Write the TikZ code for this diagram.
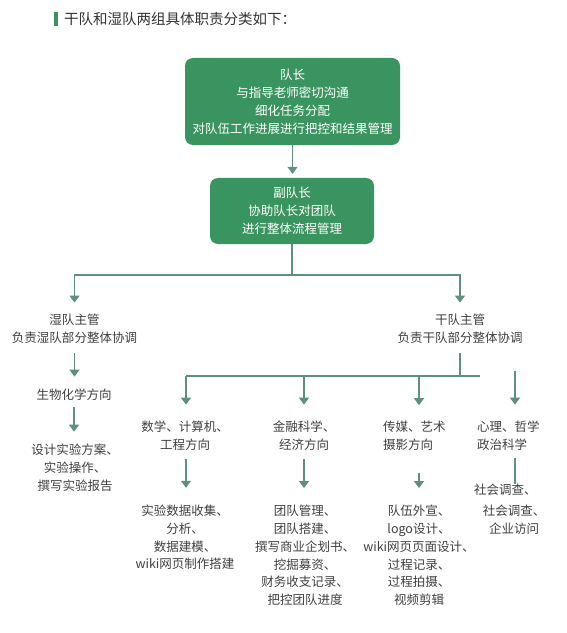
\documentclass[tikz,border=0pt]{standalone}
\usepackage{fontspec}
\setmainfont{Noto Sans CJK SC}
\usetikzlibrary{arrows.meta,calc}
\definecolor{boxgreen}{HTML}{3A9460}
\definecolor{linecol}{HTML}{5F8F7F}
\definecolor{txtgray}{HTML}{404040}
\definecolor{titlegray}{HTML}{333333}
\begin{document}
\begin{tikzpicture}[x=1bp,y=-1bp,
  txt/.style={font=\fontsize{12.5bp}{17.8bp}\selectfont, text=txtgray, align=center, inner sep=0pt},
  txtl/.style={txt, align=left, anchor=west},
  gbox/.style={fill=boxgreen, rounded corners=8bp, text=white, align=center,
    font=\fontsize{12.5bp}{18bp}\selectfont, inner sep=0pt},
  ln/.style={draw=linecol, line width=1.5bp},
  arr/.style={ln, -{Triangle[width=10bp,length=7bp]}}]
\useasboundingbox[fill=white] (0,0) rectangle (567,633);
% title
\fill[boxgreen] (54,12) rectangle (58,26);
\node[anchor=west, inner sep=0pt, text=titlegray, font=\fontsize{14.5bp}{16bp}\selectfont] (title) at (64,19) {干队和湿队两组具体职责分类如下：};
% top boxes
\node[gbox, minimum width=215bp, minimum height=87bp] (b1) at (292.5,101.5)
  {队长\\与指导老师密切沟通\\细化任务分配\\对队伍工作进展进行把控和结果管理};
\node[gbox, minimum width=164bp, minimum height=66bp] (b2) at (292,211)
  {副队长\\协助队长对团队\\进行整体流程管理};
% second level
\node[txt] (wet) at (74.5,329) {湿队主管\\负责湿队部分整体协调};
\node[txt] (dry) at (460,329) {干队主管\\负责干队部分整体协调};
% wet branch
\node[txt] (bio) at (74,395) {生物化学方向};
\node[txt] (biotask) at (75,467.5) {设计实验方案、\\实验操作、\\撰写实验报告};
% dry branches
\node[txt] (math) at (185,435.5) {数学、计算机、\\工程方向};
\node[txt] (mathtask) at (185,537.5) {实验数据收集、\\分析、\\数据建模、\\wiki网页制作搭建};
\node[txt] (fin) at (304,435.5) {金融科学、\\经济方向};
\node[txt] (fintask) at (305,555.5) {团队管理、\\团队搭建、\\撰写商业企划书、\\挖掘募资、\\财务收支记录、\\把控团队进度};
\node[txtl] (media) at (383,436) {传媒、艺术\\摄影方向};
\node[txt] (mediatask) at (419,555.5) {队伍外宣、\\logo设计、\\wiki网页页面设计、\\过程记录、\\过程拍摄、\\视频剪辑};
\node[txtl] (psy) at (477,436) {心理、哲学\\政治科学};
\node[txtl] (psyt1) at (474,490) {社会调查、};
\node[txt] (psyt2) at (514,519.5) {社会调查、\\企业访问};
% coordinates of junctions
\coordinate (jt) at (292,275);
\coordinate (hL) at (186,376);
\coordinate (hR) at (480,376);
\coordinate (hm) at (419,376);
\coordinate (hp) at (515,371);
% connectors
\draw[arr, shorten >=4bp] (b1.south) -- (b1.south |- b2.north);
\draw[ln] (b2.south) -- (jt);
\draw[arr, shorten >=11.5bp] (jt) -| (wet.north);
\draw[arr, shorten >=11.5bp] (jt) -| (dry.north);
\draw[arr, shorten <=9.5bp, shorten >=12.4bp] (wet.south) -- (wet.south |- bio.north);
\draw[arr, shorten <=6.4bp, shorten >=12bp] (bio.south) -- (bio.south |- biotask.north);
\draw[ln, shorten <=9.5bp] (dry.south) -- (dry.south |- hR);
\draw[ln] (hL) -- (hR);
\draw[arr, shorten >=16bp] (hL) -- (hL |- math.north);
\draw[arr, shorten >=16bp] (fin.north |- hL) -- (fin.north);
\draw[arr, shorten >=16bp] (hm) -- (hm |- media.north);
\draw[arr, shorten >=16.5bp] (hp) -- (hp |- psy.north);
\draw[arr, shorten <=9bp, shorten >=17bp] (hL |- math.south) -- (hL |- mathtask.north);
\draw[arr, shorten <=9bp, shorten >=17bp] (fin.south) -- (fin.south |- fintask.north);
\draw[arr, shorten <=22.5bp, shorten >=17bp] (hm |- media.south) -- (hm |- mediatask.north);
\draw[ln, shorten <=7.5bp] (hp |- psy.south) -- (hp |- psyt1.north);
\end{tikzpicture}
\end{document}
